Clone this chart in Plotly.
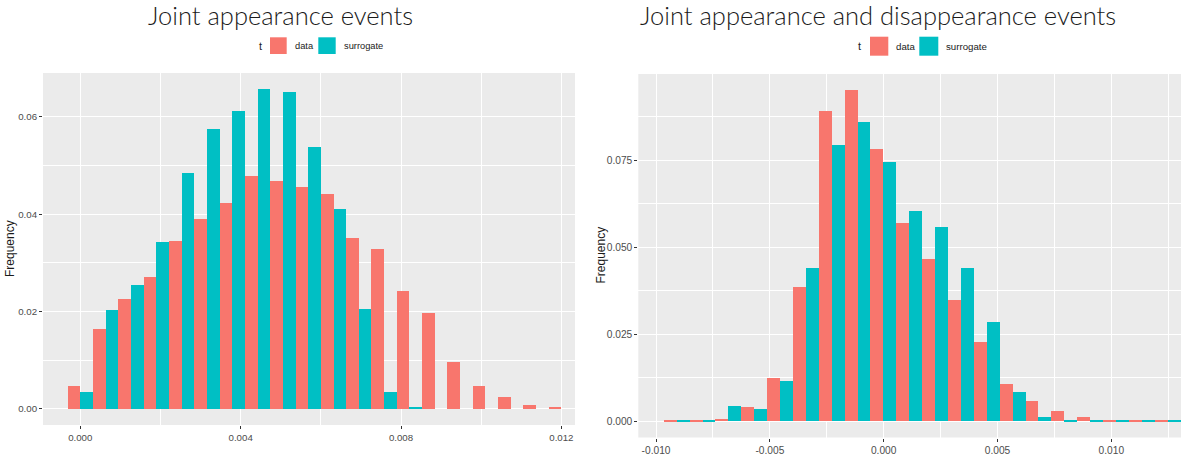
import plotly.graph_objects as go

# ---------------- data ----------------
# Joint appearance events: bin centres and relative frequencies
app_bins = [0.000000, 0.000632, 0.001263, 0.001895, 0.002526, 0.003158, 0.003789,
            0.004421, 0.005053, 0.005684, 0.006316, 0.006947, 0.007579, 0.008211,
            0.008842, 0.009474, 0.010105, 0.010737, 0.011368, 0.012000]
app_data = [0.0048, 0.0164, 0.0225, 0.0271, 0.0344, 0.0390, 0.0424, 0.0479, 0.0468, 0.0455,
            0.0442, 0.0351, 0.0329, 0.0243, 0.0197, 0.0097, 0.0047, 0.0025, 0.0008, 0.0003]
app_surr = [0.0034, 0.0203, 0.0254, 0.0342, 0.0484, 0.0576, 0.0611, 0.0658, 0.0650, 0.0539,
            0.0411, 0.0206, 0.0035, 0.0005, 0.0, 0.0, 0.0, 0.0, 0.0, 0.0]

# Joint appearance and disappearance events
ad_bins = [-0.009080, -0.007945, -0.006810, -0.005675, -0.004540, -0.003405, -0.002270,
           -0.001135, 0.000000, 0.001135, 0.002270, 0.003405, 0.004540, 0.005675,
           0.006810, 0.007945, 0.009080, 0.010215, 0.011350, 0.012485]
ad_data = [0.0002, 0.0002, 0.0007, 0.0040, 0.0124, 0.0385, 0.0892, 0.0951, 0.0781, 0.0571,
           0.0465, 0.0348, 0.0227, 0.0106, 0.0057, 0.0029, 0.0012, 0.0004, 0.0003, 0.0002]
ad_surr = [0.0001, 0.0004, 0.0043, 0.0034, 0.0115, 0.0440, 0.0794, 0.0859, 0.0744, 0.0605,
           0.0557, 0.0439, 0.0284, 0.0084, 0.0013, 0.0003, 0.0002, 0.0001, 0.0001, 0.0001]

series_names = ["data", "surrogate"]
titles = ["Joint appearance events", "Joint appearance and disappearance events"]
y_title = "Frequency"
legend_title = "t"

app_xticks = [0.000, 0.004, 0.008, 0.012]
app_xtext = ["0.000", "0.004", "0.008", "0.012"]
app_yticks = [0.00, 0.02, 0.04, 0.06]
app_ytext = ["0.00", "0.02", "0.04", "0.06"]
ad_xticks = [-0.010, -0.005, 0.000, 0.005, 0.010]
ad_xtext = ["-0.010", "-0.005", "0.000", "0.005", "0.010"]
ad_yticks = [0.000, 0.025, 0.050, 0.075]
ad_ytext = ["0.000", "0.025", "0.050", "0.075"]

# ---------------- style ----------------
W, H = 1181, 459
RED, CYAN = "#F8766D", "#00BFC4"
PANEL_BG = "#EBEBEB"
TICK_COL = "#4D4D4D"
TEXT_COL = "#1A1A1A"
SANS = "Liberation Sans, Arial, sans-serif"
TITLE_FONT = "Lato, sans-serif"

APP_W = 0.012 / 19     # bin width, left histogram
AD_W = 0.001135        # bin width, right histogram


def fx(p):
    return p / W


def fy(p):
    return 1 - p / H


fig = go.Figure()


def add_hist(bins, a, b, width, xa, ya):
    # dodged histogram: data on the left half of each bin, surrogate on the right
    fig.add_trace(go.Bar(x=bins, y=a, width=width / 2, offset=-width / 2,
                         marker=dict(color=RED, line=dict(width=0)),
                         name=series_names[0], showlegend=False,
                         xaxis=xa, yaxis=ya))
    fig.add_trace(go.Bar(x=bins, y=b, width=width / 2, offset=0,
                         marker=dict(color=CYAN, line=dict(width=0)),
                         name=series_names[1], showlegend=False,
                         xaxis=xa, yaxis=ya))


add_hist(app_bins, app_data, app_surr, APP_W, "x", "y")
add_hist(ad_bins, ad_data, ad_surr, AD_W, "x2", "y2")


def axis(domain, rng, tv, tt, minor_vals, anchor, size):
    return dict(domain=domain, range=rng, anchor=anchor,
                tickmode="array", tickvals=tv, ticktext=tt,
                ticks="outside", ticklen=3, tickwidth=1, tickcolor="#333333",
                tickfont=dict(family=SANS, size=size, color=TICK_COL),
                showgrid=True, gridcolor="white", gridwidth=1.2,
                minor=dict(tickmode="array", tickvals=minor_vals, showgrid=True,
                           gridcolor="white", gridwidth=0.6, ticks=""),
                zeroline=False, showline=False, automargin=False, fixedrange=True)


fig.update_layout(
    width=W, height=H,
    margin=dict(l=0, r=0, t=0, b=0),
    paper_bgcolor="white", plot_bgcolor=PANEL_BG,
    barmode="overlay", bargap=0,
    xaxis=axis([fx(43), fx(575)], [-0.00093, 0.01234], app_xticks, app_xtext,
               [0.002, 0.006, 0.010], "y", 9.7),
    yaxis=axis([fy(425), fy(73)], [-0.0033, 0.069], app_yticks, app_ytext,
               [0.01, 0.03, 0.05], "x", 9.7),
    xaxis2=axis([fx(638.3), 1.0], [-0.01078, 0.01306], ad_xticks, ad_xtext,
                [-0.0075, -0.0025, 0.0025, 0.0075, 0.0125], "y2", 10.2),
    yaxis2=axis([fy(437.5), fy(74)], [-0.0047, 0.0998], ad_yticks, ad_ytext,
                [0.0125, 0.0375, 0.0625, 0.0875], "x2", 10.2),
    showlegend=False,
)

ann = []
shapes = []

# panel titles
for cx, txt in [(280, titles[0]), (877.5, titles[1])]:
    ann.append(dict(text=txt, x=fx(cx), y=fy(15), xref="paper", yref="paper",
                    xanchor="center", yanchor="middle", showarrow=False,
                    font=dict(family=TITLE_FONT, size=25.5, color=TEXT_COL, weight=300)))

# y-axis titles
for cx, cy in [(10, 249), (600, 255.5)]:
    ann.append(dict(text=y_title, x=fx(cx), y=fy(cy), xref="paper", yref="paper",
                    xanchor="center", yanchor="middle", textangle=-90, showarrow=False,
                    font=dict(family=SANS, size=12, color=TEXT_COL)))

# legends: title, two keys and labels
legend_specs = [
    # t_x, key1 (x0,x1), label1_x, key2 (x0,x1), label2_x, y0, y1, font size
    (260.7, (270.0, 286.7), 293.3, (318.3, 335.7), 341.7, 37.3, 54.0, 9.3),
    (859.3, (870.0, 888.3), 894.0, (919.3, 938.3), 944.3, 36.7, 55.7, 9.7),
]
for tx, k1, l1, k2, l2, y0, y1, fs in legend_specs:
    ym = (y0 + y1) / 2
    ann.append(dict(text=legend_title, x=fx(tx), y=fy(ym), xref="paper", yref="paper",
                    xanchor="center", yanchor="middle", showarrow=False,
                    font=dict(family=SANS, size=11, color=TEXT_COL)))
    for (kx0, kx1), lx, col, name in [(k1, l1, RED, series_names[0]),
                                      (k2, l2, CYAN, series_names[1])]:
        shapes.append(dict(type="rect", xref="paper", yref="paper",
                           x0=fx(kx0), x1=fx(kx1), y0=fy(y1), y1=fy(y0),
                           fillcolor=col, line=dict(width=0)))
        ann.append(dict(text=name, x=fx(lx), y=fy(ym), xref="paper", yref="paper",
                        xanchor="left", yanchor="middle", showarrow=False,
                        font=dict(family=SANS, size=fs, color=TEXT_COL)))

fig.update_layout(annotations=ann, shapes=shapes)

fig.write_html("out.html")
